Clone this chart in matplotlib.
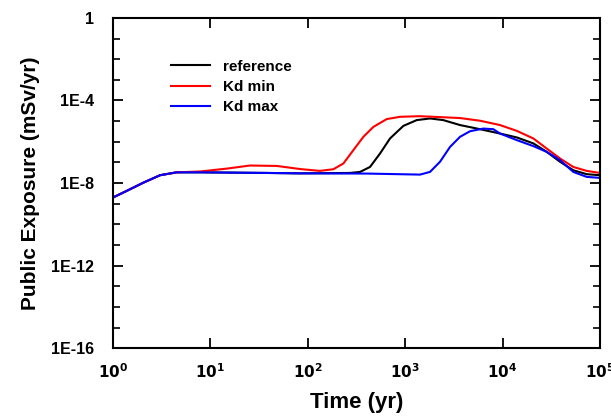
import numpy as np
import matplotlib.pyplot as plt
from matplotlib.ticker import FixedLocator, NullFormatter

plt.rcParams['font.family'] = ['Liberation Sans', 'DejaVu Sans']
plt.rcParams['font.weight'] = 'bold'
plt.rcParams['mathtext.default'] = 'bf'

# values: time in yr, log10 of exposure in mSv/yr
t_ref = [1.0, 1.38, 2.05, 3.04, 4.5, 7.8, 38, 83, 271, 344, 435, 551, 698,
         957, 1312, 1797, 2460, 3654, 5866, 9400, 14000, 20700, 28400,
         38900, 53200, 73000, 100000]
e_ref = [-8.70, -8.38, -7.98, -7.62, -7.48, -7.48, -7.51, -7.53, -7.51,
         -7.46, -7.22, -6.57, -5.84, -5.23, -4.95, -4.87, -4.95, -5.19,
         -5.39, -5.60, -5.79, -6.08, -6.49, -6.97, -7.38, -7.57, -7.62]

t_min = [1.0, 1.38, 2.05, 3.04, 4.5, 7.8, 14.7, 25.5, 48, 83, 133, 183, 232,
         293, 372, 471, 646, 885, 1420, 1945, 3654, 5866, 9400, 13960,
         20700, 28400, 38900, 53200, 73000, 100000]
e_min = [-8.70, -8.38, -7.98, -7.62, -7.48, -7.44, -7.30, -7.15, -7.17,
         -7.32, -7.41, -7.33, -7.05, -6.41, -5.76, -5.28, -4.90, -4.79,
         -4.76, -4.79, -4.85, -4.98, -5.19, -5.47, -5.84, -6.33, -6.81,
         -7.22, -7.41, -7.51]

t_max = [1.0, 1.38, 2.05, 3.04, 4.5, 7.8, 38, 83, 403, 1420, 1797, 2275,
         2884, 3654, 4625, 6340, 8030, 9400, 14000, 20700, 28400, 38900,
         53200, 73000, 100000]
e_max = [-8.70, -8.38, -7.98, -7.62, -7.48, -7.48, -7.51, -7.53, -7.54,
         -7.59, -7.46, -6.97, -6.25, -5.76, -5.49, -5.36, -5.39, -5.60,
         -5.92, -6.21, -6.49, -6.89, -7.46, -7.70, -7.75]

fig = plt.figure(figsize=(6.11, 4.17), dpi=100)
ax = fig.add_axes([0.185, 0.165, 0.797, 0.792])

ax.plot(t_ref, 10.0 ** np.array(e_ref), color='black', lw=1.5, label='reference')
ax.plot(t_min, 10.0 ** np.array(e_min), color='red', lw=1.5, label='Kd min')
ax.plot(t_max, 10.0 ** np.array(e_max), color='blue', lw=1.5, label='Kd max')

ax.set_xscale('log')
ax.set_yscale('log')
ax.set_xlim(1, 1e5)
ax.set_ylim(1e-16, 1)

ax.xaxis.set_major_locator(FixedLocator([1, 10, 100, 1e3, 1e4, 1e5]))
ax.xaxis.set_minor_locator(FixedLocator([]))
ax.set_xticklabels([r'$\mathbf{10^{%d}}$' % i for i in range(6)])
ax.yaxis.set_major_locator(FixedLocator([1e-16, 1e-12, 1e-8, 1e-4, 1]))
ax.yaxis.set_minor_locator(FixedLocator([10.0 ** k for k in range(-16, 1)]))
ax.yaxis.set_minor_formatter(NullFormatter())
ax.set_yticklabels(['1E-16', '1E-12', '1E-8', '1E-4', '1'])

ax.tick_params(axis='both', which='major', direction='in', length=7,
               width=1.3, top=True, right=True)
ax.tick_params(axis='y', which='minor', direction='in', length=5,
               width=1.2, right=True)
ax.tick_params(axis='x', labelsize=11, pad=10)
ax.tick_params(axis='y', labelsize=11.5, pad=13.5)
for lbl in ax.get_yticklabels() + ax.get_xticklabels():
    lbl.set_fontweight('bold')
for s in ax.spines.values():
    s.set_linewidth(1.5)

ax.set_xlabel('Time (yr)', fontsize=16, fontweight='bold', labelpad=8)
ax.set_ylabel('Public Exposure (mSv/yr)', fontsize=15, fontweight='bold', labelpad=8)

leg = ax.legend(loc='upper left', bbox_to_anchor=(0.09, 0.915), frameon=False,
                handlelength=2.6, handletextpad=0.85, labelspacing=0.4,
                prop={'weight': 'bold', 'size': 11})

fig.savefig('out.png', dpi=100)
